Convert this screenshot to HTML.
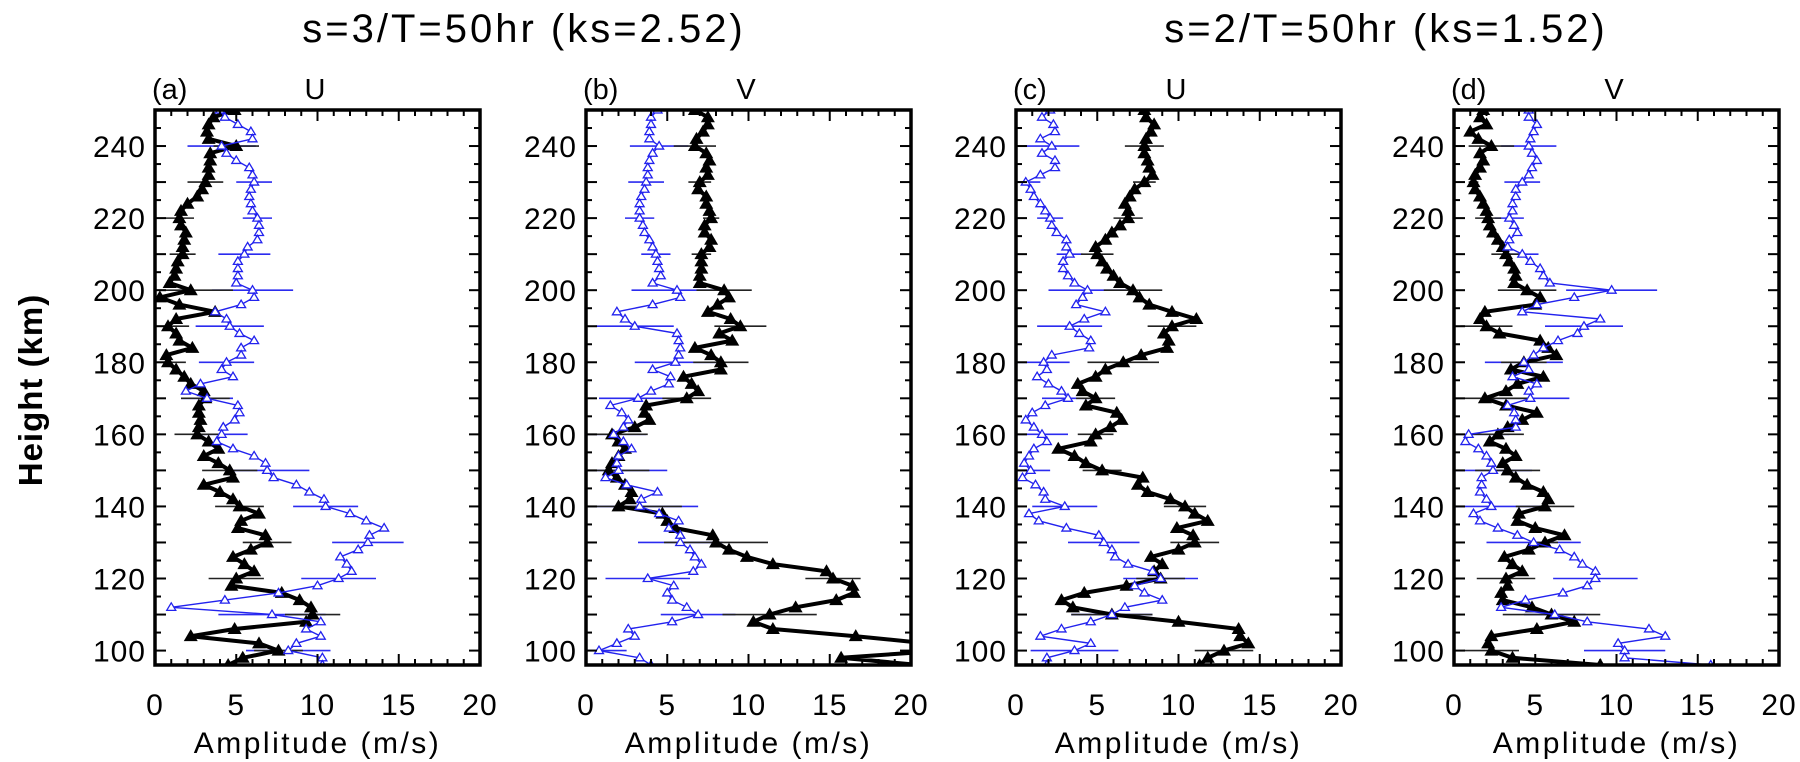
<!DOCTYPE html>
<html><head><meta charset="utf-8">
<style>
html,body{margin:0;padding:0;background:#fff;}
svg{display:block;font-family:"Liberation Sans","DejaVu Sans",sans-serif;}
</style></head>
<body>
<svg id="chart" width="1800" height="762" viewBox="0 0 1800 762" xmlns="http://www.w3.org/2000/svg">
<text x="524" y="42" font-size="40" letter-spacing="3" text-anchor="middle">s=3/T=50hr (ks=2.52)</text>
<text x="1386" y="42" font-size="40" letter-spacing="3" text-anchor="middle">s=2/T=50hr (ks=1.52)</text>
<text transform="translate(42,390) rotate(-90)" font-size="33" font-weight="bold" letter-spacing="1" text-anchor="middle">Height (km)</text>
</svg>
<script>
// shared heights (km), 250 down to 96 step 2
const heights = [250,248,246,244,242,240,238,236,234,232,230,228,226,224,222,220,218,216,214,212,210,208,206,204,202,200,198,196,194,192,190,188,186,184,182,180,178,176,174,172,170,168,166,164,162,160,158,156,154,152,150,148,146,144,142,140,138,136,134,132,130,128,126,124,122,120,118,116,114,112,110,108,106,104,102,100,98,96];
const errHeights = [240,230,220,210,200,190,180,170,160,150,140,130,120,110,100];
const xTicks = [0,5,10,15,20];
const yTicks = [100,120,140,160,180,200,220,240];
const panelLabels = ["(a)","(b)","(c)","(d)"];
const panelComps = ["U","V","U","V"];

const blackA = [4.9,3.6,3.3,3.2,3.3,5.0,3.4,3.4,3.3,3.3,3.1,2.9,2.6,2.0,1.6,1.5,1.6,1.9,1.8,1.7,1.7,1.4,1.3,1.2,0.9,2.2,0.3,1.5,3.7,1.3,0.8,1.3,1.5,2.3,0.7,0.8,1.3,1.8,2.2,3.0,3.1,2.7,2.7,2.8,2.7,2.6,3.3,3.9,3.0,3.9,4.6,4.8,3.0,4.0,4.8,5.2,6.4,5.3,5.1,6.8,6.9,5.9,4.8,5.5,6.1,5.0,4.7,7.8,8.9,9.6,9.7,9.3,4.9,2.2,6.4,7.6,5.4,4.5];
const blueA = [4.0,4.3,5.1,5.9,6.0,4.1,4.4,5.0,5.8,6.0,6.1,5.9,5.8,5.9,6.0,6.3,6.4,6.4,6.3,5.7,5.5,5.1,5.1,5.1,5.0,6.0,6.1,5.3,3.7,4.4,4.6,5.2,6.1,5.3,5.3,4.4,4.1,4.8,2.8,1.9,3.2,5.1,5.2,4.9,4.2,4.1,3.8,4.8,6.1,6.8,6.9,7.3,8.7,9.5,10.4,10.5,12.0,13.0,14.1,13.2,13.1,12.5,11.4,11.8,12.1,11.3,10.0,7.6,4.3,1.0,7.2,10.2,9.3,10.2,8.7,8.2,10.3,10.3];
const blackB = [6.7,7.5,7.5,7.2,6.8,6.7,7.4,7.6,7.4,7.5,7.0,6.9,7.4,7.4,7.6,7.7,7.3,7.3,7.7,7.6,7.1,7.1,7.1,7.0,7.0,8.5,8.8,8.1,7.5,8.9,9.5,8.2,9.0,6.7,7.7,8.3,8.3,6.0,6.5,6.9,6.2,3.7,3.6,3.9,3.0,1.6,2.0,2.4,2.0,1.6,1.4,1.9,2.4,2.8,2.7,2.0,4.7,5.0,5.5,7.8,8.0,8.8,9.9,11.5,14.8,15.2,16.4,16.5,15.4,12.9,11.3,10.3,11.5,16.6,21,22,15.7,20.5];
const blueB = [4.4,4.0,4.0,3.9,3.9,4.5,4.1,3.9,3.8,3.8,3.7,3.6,3.4,3.3,3.3,3.3,3.5,3.6,3.9,4.1,4.3,4.4,4.5,4.6,4.1,5.6,5.8,4.1,1.9,2.4,3.0,5.6,5.7,5.8,5.7,5.5,4.1,5.2,5.1,4.0,3.2,1.5,2.2,2.6,2.3,1.7,2.3,2.8,2.0,1.9,2.0,1.2,2.5,4.4,3.4,3.3,4.5,5.7,5.1,5.8,5.8,6.4,6.7,7.1,6.6,3.8,5.4,5.0,5.3,6.2,6.9,5.3,2.6,3.0,1.9,0.8,3.3,4.0];
const blackC = [7.9,8.0,8.5,8.3,8.0,7.9,7.9,8.1,8.2,8.4,7.9,7.3,7.0,6.7,6.9,6.9,6.4,5.9,5.5,4.9,5.0,5.3,5.6,6.0,6.4,7.2,7.6,8.2,9.6,11.1,9.6,9.1,9.4,9.3,7.7,6.6,5.5,4.9,3.8,4.1,4.9,4.3,6.2,6.5,5.8,4.9,4.6,2.6,3.6,4.3,5.3,7.8,7.5,8.1,9.5,10.4,11.0,11.8,9.9,10.9,11.0,10.0,8.3,9.0,8.5,8.9,6.8,4.2,2.8,3.5,5.9,10.0,13.7,13.8,14.3,12.8,11.8,11.3];
const blueC = [2.1,1.6,2.3,2.4,1.5,2.2,1.6,2.4,2.4,1.5,0.6,0.9,1.1,1.5,1.8,2.1,2.2,2.5,3.1,3.1,3.3,2.9,2.9,3.2,3.6,4.4,4.1,3.7,5.5,4.2,3.3,3.9,4.6,4.5,2.2,1.7,1.9,1.3,2.0,2.8,3.2,1.8,1.0,0.6,1.1,1.6,1.9,1.1,0.8,0.5,0.9,0.4,1.2,1.7,1.8,3.0,0.8,1.4,3.1,5.1,5.4,5.9,6.1,6.9,8.4,8.9,7.3,7.9,9.0,6.7,5.9,4.6,2.8,1.5,4.6,3.6,1.9,1.9];
const blackD = [1.8,1.6,2.0,1.0,1.5,2.3,1.6,1.8,1.6,1.3,1.2,1.3,1.6,1.8,2.0,2.1,2.2,2.4,2.7,3.0,3.2,3.4,3.7,3.8,3.7,4.5,5.3,5.0,1.9,1.6,2.0,2.8,5.3,5.8,6.3,4.3,3.5,5.5,3.9,3.2,1.9,3.2,5.1,4.2,3.3,2.7,2.2,3.2,3.8,3.0,3.3,3.8,4.5,5.5,5.8,5.6,4.0,3.9,5.0,6.8,5.6,4.6,3.1,3.6,4.2,3.2,3.3,2.9,3.0,4.8,6.0,7.4,5.1,2.3,2.1,2.3,3.6,9.0];
const blueD = [4.6,4.6,5.1,4.9,4.7,4.6,4.8,5.1,4.8,4.6,4.2,3.8,3.8,3.6,3.6,3.4,3.7,3.9,3.4,3.3,4.2,4.7,5.3,5.5,5.9,9.7,7.4,5.1,4.2,9.0,8.0,7.6,6.4,5.5,4.9,4.3,4.6,3.6,5.1,4.6,4.7,3.3,3.7,3.8,3.8,0.9,0.7,1.5,2.0,2.3,2.4,1.7,1.7,1.6,2.0,2.3,1.2,1.6,2.7,3.9,4.9,6.5,7.4,7.9,8.7,8.7,8.2,6.7,4.4,2.9,6.2,8.2,12.0,13.0,10.1,10.5,10.5,15.8];

// error half-widths at errHeights
const errBlackA = [1.4,1.1,0.9,0.8,2.6,1.3,1.1,1.5,1.4,1.7,1.5,1.5,1.7,1.7,1.5];
const errBlueA = [2.1,1.1,0.9,1.6,2.5,2.1,1.7,1.6,1.6,2.6,2.0,2.2,2.3,3.3,2.6];
const errBlackB = [1.3,0.7,0.5,0.6,1.7,1.6,1.7,1.5,2.2,2.5,3.9,3.2,1.7,2.9,1.0];
const errBlueB = [1.8,1.1,0.9,0.9,2.8,2.4,2.5,2.4,2.0,3.0,3.6,2.6,2.6,2.3,1.7];
const errBlackC = [1.2,0.7,0.9,1.0,1.8,1.5,2.2,1.2,1.1,1.2,1.3,1.5,1.5,2.5,1.8];
const errBlueC = [1.7,0.9,0.8,0.8,2.4,2.0,1.6,1.6,1.6,1.2,2.0,2.2,2.3,2.5,2.7];
const errBlackD = [1.4,0.3,0.8,0.9,1.8,1.6,1.4,2.9,1.6,2.0,1.8,0.8,1.8,3.0,1.7];
const errBlueD = [1.7,1.1,0.9,1.0,2.8,2.4,2.4,2.4,2.5,2.4,3.4,2.9,2.6,1.9,2.5];

const panelLefts = [155,586,1016,1454];
const PW = 325, TOP = 110, BOT = 665, YMIN = 96, YMAX = 250, XMAX = 20;
const NS = "http://www.w3.org/2000/svg";
const svg = document.getElementById('chart');
function mk(tag, attrs, parent){
  const e = document.createElementNS(NS, tag);
  for (const k in attrs) e.setAttribute(k, attrs[k]);
  (parent||svg).appendChild(e);
  return e;
}
function yScale(h){ return TOP + (YMAX - h) / (YMAX - YMIN) * (BOT - TOP); }
function interp(vals, h){
  for (let i=0;i<heights.length-1;i++){
    if (h<=heights[i] && h>=heights[i+1]){
      const t=(heights[i]-h)/(heights[i]-heights[i+1]);
      return vals[i]+(vals[i+1]-vals[i])*t;
    }
  }
  return vals[vals.length-1];
}
const panels = [
  {black:blackA, blue:blueA, eb:errBlackA, eu:errBlueA},
  {black:blackB, blue:blueB, eb:errBlackB, eu:errBlueB},
  {black:blackC, blue:blueC, eb:errBlackC, eu:errBlueC},
  {black:blackD, blue:blueD, eb:errBlackD, eu:errBlueD}
];
panels.forEach((p, pi) => {
  const L = panelLefts[pi];
  const xScale = v => L + v / XMAX * PW;
  const g = mk('g', {});
  
  
  const cid = 'clip' + pi;
  const cp = mk('clipPath', {id: cid}, g);
  mk('rect', {x: L, y: TOP, width: PW, height: BOT - TOP}, cp);
  const data = mk('g', {'clip-path': 'url(#' + cid + ')'}, g);

  errHeights.forEach((h, i) => {
    const v = interp(p.blue, h), y = yScale(h);
    const e = mk('line', {x1: xScale(v - p.eu[i]), x2: xScale(v + p.eu[i]), y1: y, y2: y, stroke: '#2b2bef', 'stroke-width': 1.6}, data);
    
    
  });
  errHeights.forEach((h, i) => {
    const v = interp(p.black, h), y = yScale(h);
    const e = mk('line', {x1: xScale(v - p.eb[i]), x2: xScale(v + p.eb[i]), y1: y, y2: y, stroke: '#222', 'stroke-width': 1.6}, data);
    
    
  });
  const bpts = heights.map((h, i) => xScale(p.black[i]).toFixed(1) + ',' + yScale(h).toFixed(1)).join(' ');
  const bl = mk('polyline', {points: bpts, fill: 'none', stroke: '#000', 'stroke-width': 4, 'stroke-linejoin': 'round'}, data);
  
  
  heights.forEach((h, i) => {
    const x = xScale(p.black[i]), y = yScale(h);
    const t = mk('polygon', {points: `${x},${y-7} ${x-7},${y+5} ${x+7},${y+5}`, fill: '#000'}, data);
    
    
  });
  const upts = heights.map((h, i) => xScale(p.blue[i]).toFixed(1) + ',' + yScale(h).toFixed(1)).join(' ');
  const ul = mk('polyline', {points: upts, fill: 'none', stroke: '#2222ee', 'stroke-width': 1.4}, data);
  
  
  heights.forEach((h, i) => {
    const x = xScale(p.blue[i]), y = yScale(h);
    const t = mk('polygon', {points: `${x},${y-4.5} ${x-4.5},${y+3} ${x+4.5},${y+3}`, fill: '#fff', stroke: '#2222ee', 'stroke-width': 1.3}, data);
    
    
  });

  for (let v = 0; v <= XMAX; v++) {
    const x = xScale(v), len = v % 5 === 0 ? 11 : 6;
    mk('line', {x1: x, x2: x, y1: BOT, y2: BOT - len, stroke: '#000', 'stroke-width': 2}, g);
    mk('line', {x1: x, x2: x, y1: TOP, y2: TOP + len, stroke: '#000', 'stroke-width': 2}, g);
  }
  for (let h = 100; h <= 250; h += 5) {
    const y = yScale(h), len = h % 10 === 0 ? 11 : 6;
    mk('line', {x1: L, x2: L + len, y1: y, y2: y, stroke: '#000', 'stroke-width': 2}, g);
    mk('line', {x1: L + PW, x2: L + PW - len, y1: y, y2: y, stroke: '#000', 'stroke-width': 2}, g);
  }
  const fr = mk('rect', {x: L, y: TOP, width: PW, height: BOT - TOP, fill: 'none', stroke: '#000', 'stroke-width': 3.5}, g);
  
  

  xTicks.forEach(v => {
    const t = mk('text', {x: xScale(v), y: 715, 'font-size': 30, 'letter-spacing': 1, 'text-anchor': 'middle'}, g);
    t.textContent = v;
    
    
  });
  yTicks.forEach(h => {
    const t = mk('text', {x: L - 9, y: yScale(h) + 11, 'font-size': 30, 'letter-spacing': 1, 'text-anchor': 'end'}, g);
    t.textContent = h;
    
    
  });
  const xt = mk('text', {x: L + PW / 2, y: 753, 'font-size': 30, 'letter-spacing': 2.5, 'text-anchor': 'middle'}, g);
  xt.textContent = 'Amplitude (m/s)';
  
  
  const pl = mk('text', {x: L - 3, y: 99, 'font-size': 29}, g);
  pl.textContent = panelLabels[pi];
  
  
  const pc = mk('text', {x: L + 160, y: 99, 'font-size': 29, 'text-anchor': 'middle'}, g);
  pc.textContent = panelComps[pi];
  
  
});
</script>
</body></html>
